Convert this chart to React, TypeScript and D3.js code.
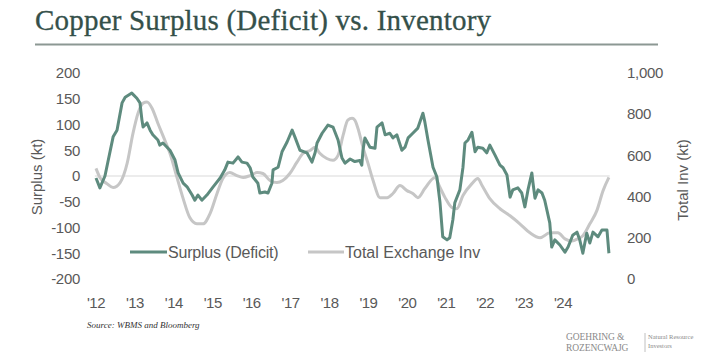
import React from "react";
import * as d3 from "d3";

const surplusDates = [2012.0,2012.1,2012.23,2012.44,2012.54,2012.67,2012.75,2012.92,2013.05,2013.13,2013.18,2013.21,2013.31,2013.39,2013.46,2013.59,2013.64,2013.72,2013.9,2014.03,2014.11,2014.24,2014.34,2014.47,2014.54,2014.62,2014.72,2014.85,2015.01,2015.19,2015.31,2015.39,2015.52,2015.65,2015.75,2015.88,2015.96,2016.03,2016.16,2016.21,2016.34,2016.42,2016.52,2016.55,2016.68,2016.78,2016.91,2017.04,2017.11,2017.24,2017.42,2017.55,2017.63,2017.68,2017.81,2017.96,2018.09,2018.22,2018.32,2018.4,2018.53,2018.65,2018.78,2018.83,2018.86,2018.91,2019.04,2019.17,2019.22,2019.35,2019.43,2019.55,2019.63,2019.73,2019.86,2019.94,2020.02,2020.14,2020.27,2020.4,2020.45,2020.53,2020.66,2020.76,2020.84,2020.91,2021.02,2021.09,2021.17,2021.22,2021.35,2021.43,2021.48,2021.56,2021.66,2021.74,2021.81,2021.94,2022.04,2022.12,2022.25,2022.38,2022.46,2022.56,2022.64,2022.71,2022.84,2022.94,2023.02,2023.1,2023.2,2023.23,2023.28,2023.36,2023.46,2023.53,2023.66,2023.71,2023.79,2023.92,2024.05,2024.13,2024.25,2024.36,2024.43,2024.51,2024.61,2024.69,2024.77,2024.9,2025.0,2025.13,2025.18];
const surplusValues = [-4,-23,0,76,89,142,153,161,151,142,109,95,103,89,80,70,60,64,50,31,6,-14,-21,-37,-47,-37,-47,-37,-21,-4,12,27,25,37,27,25,16,-2,-14,-33,-31,-33,-14,12,17,47,66,89,76,50,45,27,45,64,83,99,95,70,35,25,33,28,30,21,50,74,56,54,95,103,80,83,74,80,50,56,74,83,93,122,105,70,17,-2,-52,-118,-124,-120,-85,-52,-27,17,64,70,85,47,56,54,45,60,41,21,16,2,-41,-27,-23,-33,-60,-27,6,-14,-43,-27,-33,-47,-91,-138,-124,-134,-148,-138,-115,-109,-124,-150,-111,-130,-109,-118,-105,-105,-150];

const invDates = [2012.0,2012.1,2012.28,2012.44,2012.62,2012.8,2012.95,2013.08,2013.21,2013.31,2013.44,2013.59,2013.77,2013.9,2014.08,2014.24,2014.41,2014.59,2014.75,2014.93,2015.11,2015.26,2015.44,2015.62,2015.78,2015.96,2016.14,2016.29,2016.47,2016.65,2016.8,2016.98,2017.16,2017.32,2017.5,2017.63,2017.75,2017.93,2018.09,2018.22,2018.35,2018.47,2018.58,2018.65,2018.73,2018.86,2018.99,2019.12,2019.3,2019.48,2019.63,2019.81,2019.99,2020.14,2020.27,2020.45,2020.71,2020.84,2020.97,2021.15,2021.27,2021.43,2021.66,2021.81,2021.92,2022.12,2022.38,2022.64,2022.89,2023.15,2023.41,2023.66,2023.87,2024.05,2024.23,2024.38,2024.51,2024.69,2024.87,2025.03,2025.18];
const invValues = [537,493,463,444,468,561,707,805,854,859,829,756,673,610,493,390,298,268,268,317,415,488,517,502,493,502,517,512,478,468,478,512,566,610,624,639,610,585,576,600,698,771,780,771,732,639,561,478,395,395,415,454,429,415,395,439,493,444,395,346,341,405,463,488,454,390,341,307,268,224,200,224,224,195,185,195,210,268,332,429,493];

const yearTicks = [2012,2013,2014,2015,2016,2017,2018,2019,2020,2021,2022,2023,2024];
const leftTicks = [200,150,100,50,0,-50,-100,-150,-200];
const rightTicks = [1000,800,600,400,200,0];

const GREEN = "#5e8b7e";
const GRAY = "#c6c6c6";
const TXT = "#595959";

export default function App() {
  const x = d3.scaleLinear().domain([2012, 2024]).range([96, 563]);
  const yL = d3.scaleLinear().domain([-200, 200]).range([279, 73]);
  const yR = d3.scaleLinear().domain([0, 1000]).range([279, 73]);

  const surplus = surplusDates.map((d, i) => [d, surplusValues[i]] as [number, number]);
  const inv = invDates.map((d, i) => [d, invValues[i]] as [number, number]);

  const lineS = d3.line<[number, number]>().x(d => x(d[0])).y(d => yL(d[1])).curve(d3.curveLinear);
  const lineI = d3.line<[number, number]>().x(d => x(d[0])).y(d => yR(d[1])).curve(d3.curveMonotoneX);

  const fmt = d3.format(",");
  const sans = "'Liberation Sans', Arial, sans-serif";
  const serif = "'Liberation Serif', 'Times New Roman', serif";

  return (
    <svg width={708} height={362} style={{ position: "absolute", left: 0, top: 0, background: "#fff" }}>
      <text x={35} y={30} fontFamily={serif} fontSize={29} fill="#34504a" letterSpacing={0.2} stroke="#34504a" strokeWidth={0.3}>Copper Surplus (Deficit) vs. Inventory</text>
      <line x1={35} x2={658} y1={44.5} y2={44.5} stroke="#8c9893" strokeWidth={2} />

      {/* zero line */}
      <line x1={x(2011.97)} x2={x(2025.2)} y1={yL(0)} y2={yL(0)} stroke="#d9d9d9" strokeWidth={1.2} />

      {leftTicks.map(t => (
        <text key={"l" + t} x={80} y={yL(t)} dy="0.35em" textAnchor="end" fontFamily={sans} fontSize={15} fill={TXT} letterSpacing={-0.3}>{t}</text>
      ))}
      {rightTicks.map(t => (
        <text key={"r" + t} x={627} y={yR(t)} dy="0.35em" textAnchor="start" fontFamily={sans} fontSize={15} fill={TXT} letterSpacing={-0.3}>{fmt(t)}</text>
      ))}
      {yearTicks.map(t => (
        <text key={"x" + t} x={x(t)} y={303} dy="0.35em" textAnchor="middle" fontFamily={sans} fontSize={15} fill={TXT} letterSpacing={-0.5}>{"'" + String(t).slice(2)}</text>
      ))}

      <text transform={`translate(37,177) rotate(-90)`} textAnchor="middle" dy="0.35em" fontFamily={sans} fontSize={15} fill={TXT}>Surplus (kt)</text>
      <text transform={`translate(683,180) rotate(-90)`} textAnchor="middle" dy="0.35em" fontFamily={sans} fontSize={15} fill={TXT}>Total Inv (kt)</text>

      <path d={lineI(inv) || ""} fill="none" stroke={GRAY} strokeWidth={3} strokeLinejoin="round" />
      <path d={lineS(surplus) || ""} fill="none" stroke={GREEN} strokeWidth={3} strokeLinejoin="round" />

      {/* legend */}
      <line x1={130} x2={167} y1={252} y2={252} stroke={GREEN} strokeWidth={3} />
      <text x={168} y={252} dy="0.35em" fontFamily={sans} fontSize={16} fill={TXT} letterSpacing={-0.2}>Surplus (Deficit)</text>
      <line x1={308} x2={344} y1={252} y2={252} stroke={GRAY} strokeWidth={3} />
      <text x={345} y={252} dy="0.35em" fontFamily={sans} fontSize={16} fill={TXT}>Total Exchange Inv</text>

      <text x={87} y={328} fontFamily={serif} fontStyle="italic" fontSize={9} fill="#333">Source: WBMS and Bloomberg</text>

      {/* logo */}
      <text x={566} y={339.5} fontFamily={serif} fontSize={9.5} fill="#8a8a8a" letterSpacing={-0.1}>GOEHRING &amp;</text>
      <text x={566} y={350.5} fontFamily={serif} fontSize={9.5} fill="#8a8a8a" letterSpacing={-0.1}>ROZENCWAJG</text>
      <line x1={645} x2={645} y1={333} y2={352} stroke="#b0b0b0" strokeWidth={0.8} />
      <text x={648} y={339} fontFamily={serif} fontSize={6.5} fill="#8a8a8a">Natural Resource</text>
      <text x={648} y={348} fontFamily={serif} fontSize={6.5} fill="#8a8a8a">Investors</text>
    </svg>
  );
}
